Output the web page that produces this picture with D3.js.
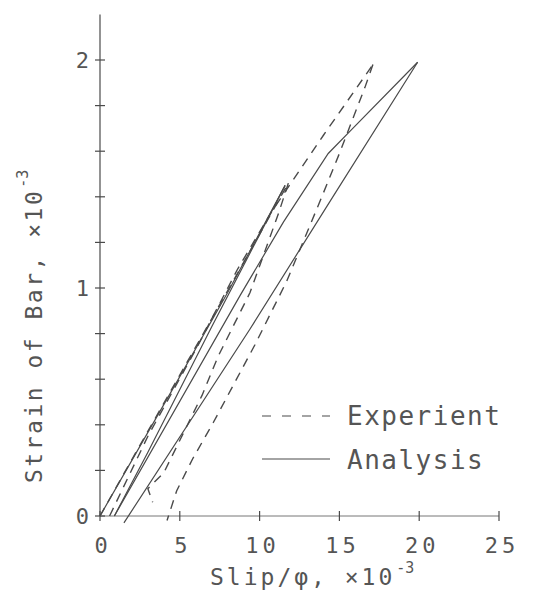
<!DOCTYPE html>
<html>
<head>
<meta charset="utf-8">
<script src="https://cdn.jsdelivr.net/npm/d3@7/dist/d3.min.js"></script>
<style>
body{margin:0;background:#fff}
text{font-family:"DejaVu Sans Mono",monospace;fill:#555}
</style>
</head>
<body>
<svg id="chart" width="535" height="592"></svg>
<script>
// tick values
const xTicks = [0, 5, 10, 15, 20, 25]
const yTicks = [0, 1, 2]
const yMinor = [0.2, 0.4, 0.6, 0.8, 1.2, 1.4, 1.6, 1.8]

// experiment curves [slip, strain] (x10^-3)
const expLoad1 = [[0,0],[2.5,0.31],[5.5,0.68],[8.5,1.05],[11.8,1.46]]
const expUnload1 = [[11.8,1.46],[11.2,1.33],[9.4,0.98],[7.4,0.70],[6.4,0.53],[5.2,0.36],[4.0,0.19],[3.0,0.12],[3.3,0.06]]
const expLoad2 = [[0.6,0],[3,0.35],[6,0.73],[8.6,1.08],[10.8,1.34],[14,1.67],[17.1,1.98]]
const expUnload2 = [[17.1,1.98],[16.6,1.88],[15.0,1.59],[13.9,1.40],[11.7,1.03],[9.7,0.75],[7.1,0.41],[5.8,0.25],[4.8,0.11],[4.2,-0.02]]

// analysis curves
const anaLoad1 = [[0,0],[4.5,0.55],[8,0.98],[11.6,1.45]]
const anaUnload1 = [[11.6,1.45],[7,0.83],[3,0.28],[0.9,0]]
const anaLoad2 = [[0.9,0],[8.8,0.97],[11.5,1.29],[14.3,1.59],[15.7,1.69],[19.9,1.99]]
const anaUnload2 = [[19.9,1.99],[14.5,1.39],[9.4,0.82],[1.5,-0.03]]

const svg = d3.select("#chart")
const x = d3.scaleLinear().domain([0,25]).range([100,499])
const y = d3.scaleLinear().domain([0,2.2]).range([516,14.4])
const line = d3.line().x(d=>x(d[0])).y(d=>y(d[1]))
const ink = "#4a4a4a"

// axes
svg.append("line").attr("x1",x(0)).attr("x2",x(25)).attr("y1",y(0)).attr("y2",y(0))
    .attr("stroke","#777").attr("stroke-width",1)
svg.append("line").attr("x1",x(0)).attr("x2",x(0)).attr("y1",y(0)).attr("y2",y(2.2))
    .attr("stroke",ink).attr("stroke-width",1.2)

svg.selectAll(".xt").data(xTicks).enter().append("line")
    .attr("x1",d=>x(d)).attr("x2",d=>x(d)).attr("y1",y(0)-5).attr("y2",y(0)+5)
    .attr("stroke",ink).attr("stroke-width",1.2)
svg.selectAll(".yt").data(yTicks.concat(yMinor)).enter().append("line")
    .attr("x1",x(0)-5).attr("x2",x(0)+5).attr("y1",d=>y(d)).attr("y2",d=>y(d))
    .attr("stroke",ink).attr("stroke-width",1.2)

svg.selectAll(".xl").data(xTicks).enter().append("text")
    .attr("x",d=>x(d)+3).attr("y",553)
    .attr("text-anchor","middle").attr("font-size",22).attr("letter-spacing",4)
    .text(d=>d)
svg.selectAll(".yl").data(yTicks).enter().append("text")
    .attr("x",89).attr("y",d=>y(d)+8)
    .attr("text-anchor","end").attr("font-size",22)
    .text(d=>d)

// axis titles (superscript kept in the same text)
const xt = svg.append("text").attr("x",210).attr("y",585).attr("font-size",23)
xt.append("tspan").attr("letter-spacing",3).text("Slip/φ, ×10")
xt.append("tspan").attr("dx",1).attr("dy",-12).attr("font-size",15).text("-3")

const yt = svg.append("text").attr("transform","translate(42,483) rotate(-90)").attr("font-size",23)
yt.append("tspan").attr("letter-spacing",2.5).text("Strain of Bar, ×10")
yt.append("tspan").attr("dx",1).attr("dy",-14).attr("font-size",15).text("-3")

// curves
const dash = "9,7"
;[expLoad1, expUnload1, expLoad2, expUnload2].forEach(c=>{
    svg.append("path").datum(c).attr("d",line).attr("fill","none")
        .attr("stroke",ink).attr("stroke-width",1.4).attr("stroke-dasharray",dash)
})
;[anaLoad1, anaUnload1, anaLoad2, anaUnload2].forEach(c=>{
    svg.append("path").datum(c).attr("d",line).attr("fill","none")
        .attr("stroke",ink).attr("stroke-width",1.2)
})

// legend
const legend = svg.append("g")
legend.append("line").attr("x1",262).attr("x2",330).attr("y1",416).attr("y2",416)
    .attr("stroke",ink).attr("stroke-width",1.2).attr("stroke-dasharray","9,11")
legend.append("line").attr("x1",262).attr("x2",330).attr("y1",459).attr("y2",459)
    .attr("stroke",ink).attr("stroke-width",1.2)
legend.append("text").attr("x",347).attr("y",425).attr("font-size",26).attr("letter-spacing",1.5).text("Experient")
legend.append("text").attr("x",347).attr("y",469).attr("font-size",26).attr("letter-spacing",1.5).text("Analysis")
</script>
</body>
</html>
